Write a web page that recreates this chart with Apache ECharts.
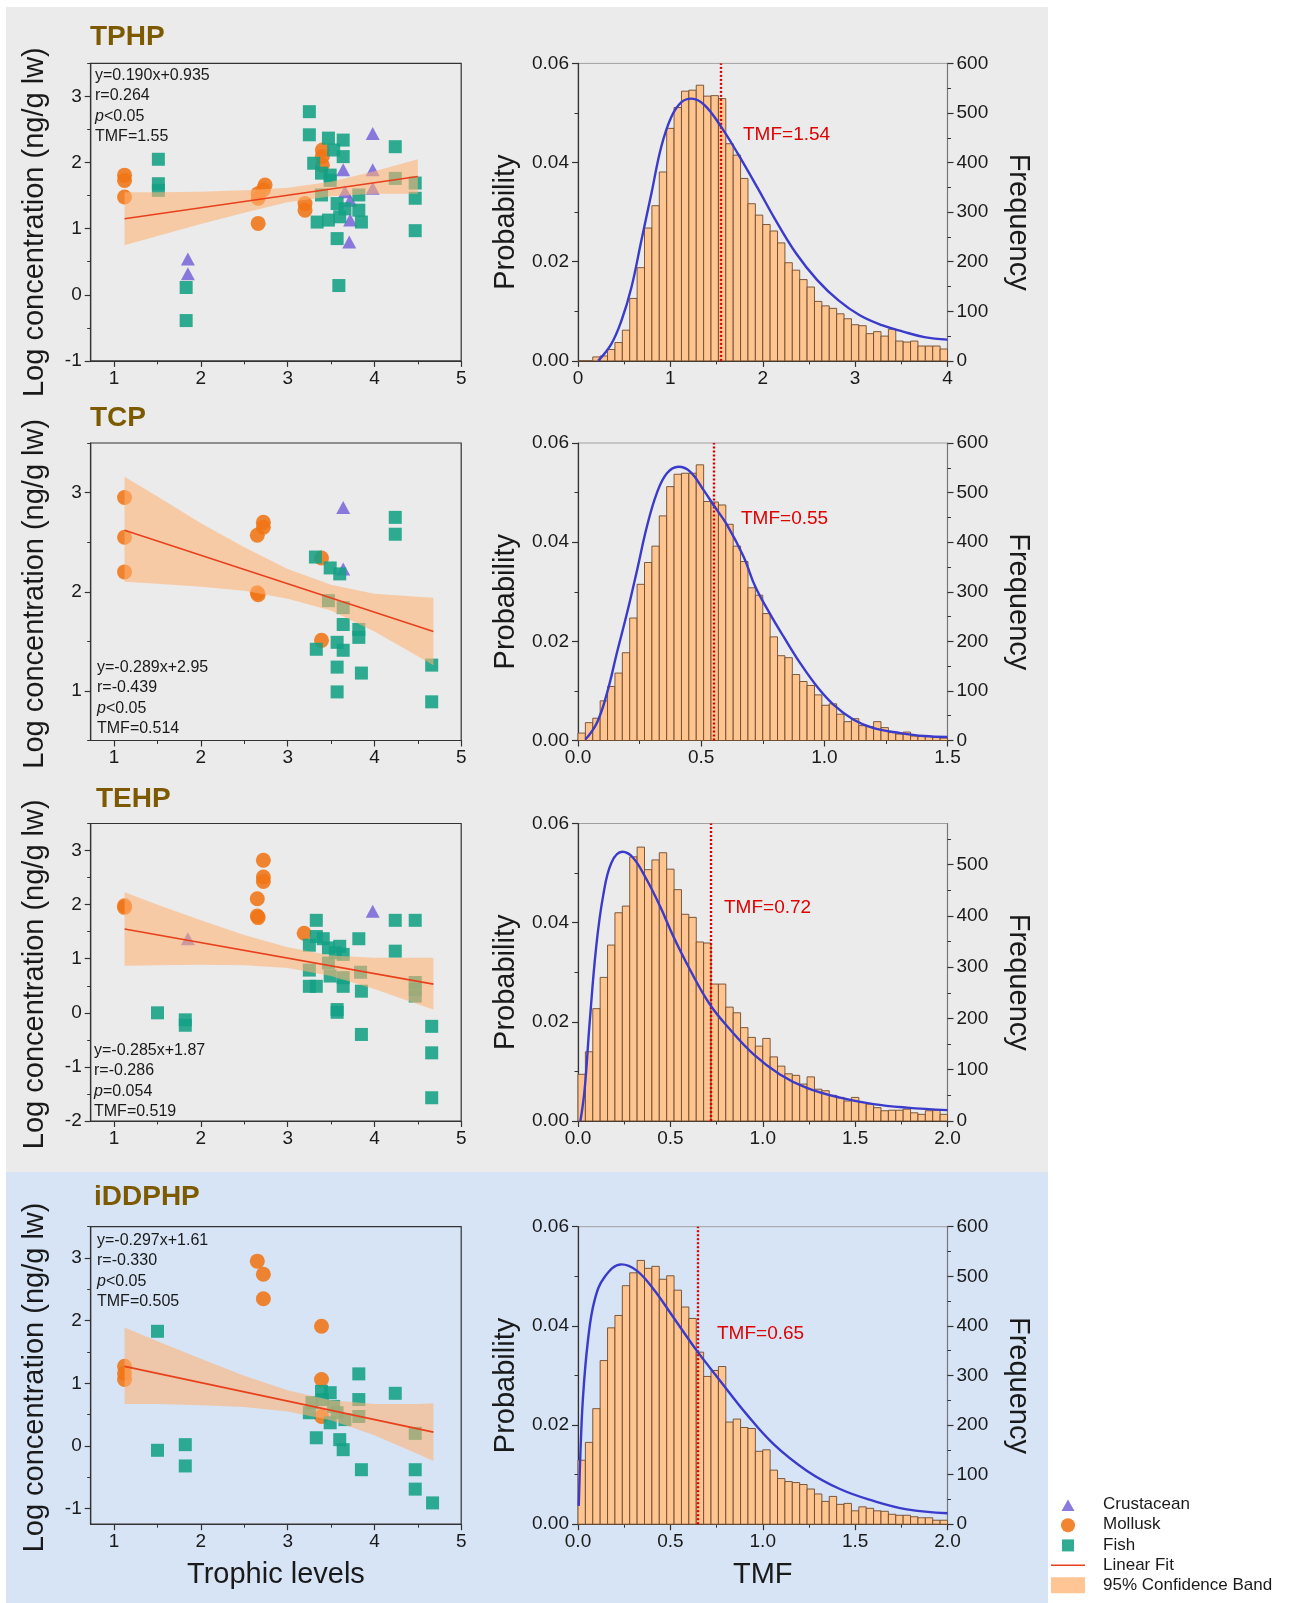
<!DOCTYPE html>
<html>
<head>
<meta charset="utf-8">
<script src="https://cdn.jsdelivr.net/npm/echarts@6/dist/echarts.min.js"></script>
<style>
  html, body { margin: 0; padding: 0; background: #fff; }
  #main { width: 1292px; height: 1603px; }
</style>
</head>
<body>
<div id="main"></div>
<script>
const FONT = '"Liberation Sans", Arial, sans-serif';
const INK = '#1a1a1a';

// ---------- left column: log concentration vs trophic level ----------
const tphpCrustacean = [[1.85,0.54],[1.85,0.32],[3.64,1.89],[3.66,1.56],[3.72,1.43],[3.72,1.13],[3.71,0.80],[3.98,2.44],[3.98,1.89],[3.98,1.61]];
const tphpMollusk = [[1.12,1.81],[1.12,1.73],[1.12,1.48],[2.74,1.66],[2.72,1.59],[2.66,1.53],[2.66,1.46],[2.66,1.08],[3.2,1.38],[3.2,1.28],[3.4,2.19],[3.4,2.09],[3.4,1.96]];
const tphpFish = [[1.51,2.05],[1.51,1.68],[1.51,1.58],[1.83,0.11],[1.83,-0.39],[3.25,2.77],[3.25,2.42],[3.30,1.99],[3.34,1.10],[3.39,1.84],[3.39,1.51],[3.47,2.37],[3.49,1.81],[3.49,1.73],[3.47,1.13],[3.53,2.19],[3.57,1.38],[3.57,0.85],[3.59,0.14],[3.60,1.18],[3.64,2.34],[3.64,2.09],[3.66,1.30],[3.82,1.51],[3.82,1.28],[3.85,1.10],[4.24,2.24],[4.24,1.76],[4.47,1.69],[4.47,1.46],[4.47,0.97]];
const tphpFit = [[1.12,1.15],[4.5,1.79]];
const tphpBandX = [1.12,1.5,2,2.5,3,3.5,4,4.5];
const tphpBandLow = [0.75,0.89,1.07,1.24,1.40,1.49,1.53,1.53];
const tphpBandHigh = [1.55,1.55,1.56,1.58,1.62,1.71,1.87,2.05];
const tphpStats = ['y=0.190x+0.935','r=0.264','p<0.05','TMF=1.55'];

const tcpCrustacean = [[3.64,2.85],[3.64,2.23]];
const tcpMollusk = [[1.12,2.95],[1.12,2.55],[1.12,2.20],[2.72,2.70],[2.72,2.65],[2.65,2.57],[2.65,1.99],[2.66,1.97],[3.39,2.34],[3.39,1.51]];
const tcpFish = [[3.32,2.35],[3.49,2.24],[3.60,2.18],[3.47,1.91],[3.64,1.84],[3.64,1.67],[3.82,1.62],[3.82,1.54],[3.33,1.42],[3.57,1.49],[3.64,1.41],[3.57,1.24],[3.57,0.99],[3.85,1.18],[4.24,2.75],[4.24,2.58],[4.66,1.26],[4.66,0.89]];
const tcpFit = [[1.12,2.62],[4.68,1.60]];
const tcpBandX = [1.12,1.5,2,2.5,3,3.5,4,4.5,4.68];
const tcpBandLow = [2.10,2.08,2.05,2.01,1.93,1.81,1.60,1.35,1.26];
const tcpBandHigh = [3.16,2.96,2.69,2.45,2.23,2.07,1.98,1.95,1.94];
const tcpStats = ['y=-0.289x+2.95','r=-0.439','p<0.05','TMF=0.514'];

const tehpCrustacean = [[1.85,1.37],[3.98,1.88]];
const tehpMollusk = [[1.12,1.95],[1.12,1.98],[2.72,2.82],[2.72,2.51],[2.72,2.43],[2.65,2.11],[2.65,1.79],[2.66,1.76],[3.19,1.47]];
const tehpFish = [[1.50,0.0],[1.82,-0.13],[1.82,-0.23],[3.25,1.25],[3.25,0.79],[3.25,0.49],[3.33,1.71],[3.33,1.41],[3.33,0.49],[3.41,1.37],[3.47,1.20],[3.47,0.92],[3.49,0.68],[3.55,1.11],[3.57,0.06],[3.57,0.01],[3.60,1.23],[3.64,1.08],[3.64,0.65],[3.64,0.49],[3.82,1.37],[3.84,0.75],[3.85,0.40],[3.85,-0.40],[4.24,1.71],[4.24,1.14],[4.47,1.71],[4.47,0.56],[4.47,0.43],[4.47,0.31],[4.66,-0.25],[4.66,-0.74],[4.66,-1.57]];
const tehpFit = [[1.12,1.55],[4.68,0.53]];
const tehpBandX = [1.12,1.5,2,2.5,3,3.5,4,4.5,4.68];
const tehpBandLow = [0.87,0.88,0.89,0.88,0.83,0.68,0.44,0.16,0.06];
const tehpBandHigh = [2.23,2.00,1.71,1.44,1.21,1.06,1.02,1.02,1.02];
const tehpStats = ['y=-0.285x+1.87','r=-0.286','p=0.054','TMF=0.519'];

const iddphpCrustacean = [];
const iddphpMollusk = [[1.12,1.27],[1.12,1.16],[1.12,1.06],[2.65,2.95],[2.72,2.74],[2.72,2.35],[3.39,1.91],[3.39,1.06],[3.39,0.47]];
const iddphpFish = [[1.50,1.83],[1.50,-0.07],[1.82,0.02],[1.82,-0.32],[3.25,0.53],[3.28,0.69],[3.33,0.13],[3.39,0.87],[3.40,0.74],[3.49,0.85],[3.49,0.37],[3.53,0.63],[3.57,0.53],[3.60,0.10],[3.64,-0.06],[3.66,0.42],[3.82,1.15],[3.82,0.74],[3.82,0.47],[3.85,-0.38],[4.24,0.84],[4.47,0.20],[4.47,-0.38],[4.47,-0.69],[4.67,-0.91]];
const iddphpFit = [[1.12,1.27],[4.68,0.22]];
const iddphpBandX = [1.12,1.5,2,2.5,3,3.5,4,4.5,4.68];
const iddphpBandLow = [0.67,0.67,0.65,0.62,0.55,0.41,0.17,-0.13,-0.24];
const iddphpBandHigh = [1.89,1.67,1.39,1.12,0.89,0.73,0.67,0.67,0.68];
const iddphpStats = ['y=-0.297x+1.61','r=-0.330','p<0.05','TMF=0.505'];

const trophicTicks = [1,2,3,4,5];
const trophicMinor = [1.5,2.5,3.5,4.5];
const concTicks = [[-1,0,1,2,3],[1,2,3],[-2,-1,0,1,2,3],[-1,0,1,2,3]];
const concMinor = [[-0.5,0.5,1.5,2.5,3.5],[0.5,1.5,2.5,3.5],[-1.5,-0.5,0.5,1.5,2.5,3.5],[-0.5,0.5,1.5,2.5,3.5]];
const concMin = [-1, 0.5, -2, -1.25];

// ---------- right column: TMF distributions ----------
const tphpFreq = [0,0,8,10,23,37,62,126,188,268,313,381,469,511,544,546,556,534,535,529,438,415,368,317,294,275,262,238,198,183,164,149,120,111,106,95,85,73,71,55,59,50,64,40,38,40,30,30,30,24];
const tphpBinWidth = 0.08;
const tphpCurve = [[0.217,0],[0.36,0.0034],[0.47,0.0081],[0.578,0.0148],[0.686,0.0243],[0.794,0.0337],[0.9,0.0431],[1.01,0.0492],[1.12,0.0522],[1.23,0.0529],[1.37,0.0516],[1.55,0.0472],[1.73,0.0418],[1.95,0.0347],[2.12,0.029],[2.36,0.0217],[2.59,0.0163],[2.82,0.0122],[3.05,0.0092],[3.29,0.0072],[3.52,0.0059],[3.75,0.0048],[4.0,0.0043]];
const tphpTmf = 1.54;

const tcpFreq = [15,36,45,80,109,136,177,247,315,359,392,453,512,537,539,539,556,482,481,475,436,392,361,308,293,256,209,171,167,133,119,111,92,71,74,53,38,44,30,28,38,26,16,13,17,9,8,8,7,5];
const tcpBinWidth = 0.03;
const tcpCurve = [[0.03,0.0002],[0.077,0.0036],[0.118,0.0096],[0.158,0.0177],[0.199,0.0257],[0.24,0.0344],[0.28,0.0432],[0.32,0.0499],[0.361,0.0539],[0.408,0.0552],[0.456,0.0542],[0.51,0.0505],[0.55,0.0475],[0.605,0.0435],[0.672,0.0371],[0.72,0.031],[0.78,0.0255],[0.834,0.021],[0.902,0.0156],[0.97,0.0109],[1.038,0.0072],[1.119,0.0042],[1.2,0.0025],[1.309,0.0015],[1.404,0.0009],[1.5,0.0007]];
const tcpTmf = 0.55;

const tehpFreq = [91,135,219,280,343,406,419,515,534,490,509,523,491,451,403,397,349,347,267,267,222,211,182,163,146,161,125,107,92,89,72,86,62,59,50,46,39,46,36,33,26,20,21,21,23,16,13,20,21,13];
const tehpBinWidth = 0.04;
const tehpCurve = [[0.013,0],[0.036,0.0064],[0.063,0.0198],[0.099,0.0353],[0.136,0.0454],[0.181,0.0521],[0.24,0.0543],[0.298,0.0531],[0.37,0.0488],[0.443,0.0434],[0.515,0.0373],[0.605,0.0306],[0.714,0.0235],[0.822,0.0185],[0.949,0.0135],[1.093,0.0094],[1.238,0.0067],[1.418,0.0047],[1.599,0.0034],[1.78,0.0027],[2.0,0.0022]];
const tehpTmf = 0.72;

const iddphpFreq = [129,165,233,330,396,421,481,507,532,516,520,494,501,472,438,415,347,298,310,318,206,212,195,193,147,150,109,92,86,84,80,71,61,46,56,40,42,27,35,32,27,26,20,18,18,15,13,13,8,8];
const iddphpBinWidth = 0.04;
const iddphpCurve = [[0.004,0.0037],[0.013,0.0142],[0.027,0.0256],[0.054,0.0371],[0.09,0.0452],[0.145,0.0499],[0.235,0.0524],[0.316,0.0512],[0.407,0.0475],[0.515,0.0418],[0.641,0.0351],[0.768,0.029],[0.912,0.0222],[1.057,0.0162],[1.238,0.0108],[1.418,0.0071],[1.599,0.0047],[1.78,0.003],[2.0,0.0022]];
const iddphpTmf = 0.65;

const tmfMax = [4, 1.5, 2, 2];
const tmfTicks = [[0,1,2,3,4],[0,0.5,1,1.5],[0,0.5,1,1.5,2],[0,0.5,1,1.5,2]];
const tmfMinor = [[0.5,1.5,2.5,3.5],[0.25,0.75,1.25],[0.25,0.75,1.25,1.75],[0.25,0.75,1.25,1.75]];
const probTicks = [0,0.02,0.04,0.06];
const probMinor = [0.01,0.03,0.05];
const freqMax = [600, 600, 580, 600];
const freqTicks = [[0,100,200,300,400,500,600],[0,100,200,300,400,500,600],[0,100,200,300,400,500],[0,100,200,300,400,500,600]];
const freqMinor = [[50,150,250,350,450,550],[50,150,250,350,450,550],[50,150,250,350,450,550],[50,150,250,350,450,550]];

const panels = [
  {name:'TPHP', crustacean:tphpCrustacean, mollusk:tphpMollusk, fish:tphpFish, fit:tphpFit, bandX:tphpBandX, bandLow:tphpBandLow, bandHigh:tphpBandHigh, stats:tphpStats, freq:tphpFreq, binWidth:tphpBinWidth, curve:tphpCurve, tmf:tphpTmf},
  {name:'TCP', crustacean:tcpCrustacean, mollusk:tcpMollusk, fish:tcpFish, fit:tcpFit, bandX:tcpBandX, bandLow:tcpBandLow, bandHigh:tcpBandHigh, stats:tcpStats, freq:tcpFreq, binWidth:tcpBinWidth, curve:tcpCurve, tmf:tcpTmf},
  {name:'TEHP', crustacean:tehpCrustacean, mollusk:tehpMollusk, fish:tehpFish, fit:tehpFit, bandX:tehpBandX, bandLow:tehpBandLow, bandHigh:tehpBandHigh, stats:tehpStats, freq:tehpFreq, binWidth:tehpBinWidth, curve:tehpCurve, tmf:tehpTmf},
  {name:'iDDPHP', crustacean:iddphpCrustacean, mollusk:iddphpMollusk, fish:iddphpFish, fit:iddphpFit, bandX:iddphpBandX, bandLow:iddphpBandLow, bandHigh:iddphpBandHigh, stats:iddphpStats, freq:iddphpFreq, binWidth:iddphpBinWidth, curve:iddphpCurve, tmf:iddphpTmf}
];

// layout (pixels)
const rowTop = [63.4, 443, 823.5, 1226.7];
const rowHeight = 297.5;
const titlePos = [[90, 37], [90, 418], [96, 799], [94, 1197]];
const statsPos = [[95, 65], [97, 657], [94, 1040], [97, 1230]];
const tmfLabelPos = [[743, 135], [741, 519], [724, 908], [717, 1334]];

const BAND = 'rgba(255,178,115,0.58)';

const option = {
  animation: false,
  backgroundColor: '#ffffff',
  textStyle: { fontFamily: FONT },
  grid: [], xAxis: [], yAxis: [], series: [],
  graphic: [
    { type: 'rect', z: -10, silent: true, shape: { x: 6, y: 7, width: 1042, height: 1165 }, style: { fill: '#ebebeb' } },
    { type: 'rect', z: -10, silent: true, shape: { x: 6, y: 1172, width: 1042, height: 431 }, style: { fill: '#d6e4f6' } }
  ],
  legend: {
    orient: 'vertical', left: 1033, top: 1491,
    itemWidth: 60, itemHeight: 16, itemGap: 3.2,
    itemStyle: { borderWidth: 0 },
    textStyle: { fontSize: 17, color: INK, fontFamily: FONT },
    data: [
      { name: 'Crustacean', icon: 'path://M0,0M60,16M23.5,14.5L30,3L36.5,14.5Z' },
      { name: 'Mollusk', icon: 'path://M0,0M60,16M23,8.5A7,7 0 1,0 37,8.5A7,7 0 1,0 23,8.5Z' },
      { name: 'Fish', icon: 'path://M0,0M60,16M24,2.5H36V14.5H24Z' },
      { name: 'Linear Fit', icon: 'path://M0,0M60,16M13,7.5H47V9H13Z' },
      { name: '95% Confidence Band', icon: 'path://M0,0M60,16M13,0H47V16H13Z' }
    ]
  }
};

function addAxis(list, cfg, major, minor, fmt, labelOpts, lineColor) {
  const lc = lineColor || '#333';
  list.push(Object.assign({
    type: 'value',
    splitLine: { show: false },
    axisLine: { show: true, onZero: false, lineStyle: { color: lc, width: 1.2 } },
    axisTick: { show: true, inside: false, customValues: major, length: 6, lineStyle: { color: '#333', width: 1.2 } },
    axisLabel: Object.assign({ show: true, customValues: major, formatter: fmt, color: INK, fontSize: 19, fontFamily: FONT }, labelOpts || {})
  }, cfg));
  const idx = list.length - 1;
  if (minor && minor.length) {
    list.push({
      type: 'value', gridIndex: cfg.gridIndex, position: cfg.position, min: cfg.min, max: cfg.max,
      splitLine: { show: false },
      axisLine: { show: false, onZero: false },
      axisLabel: { show: false },
      axisTick: { show: true, inside: false, customValues: minor, length: 3.5, lineStyle: { color: '#333', width: 1 } }
    });
  }
  return idx;
}

const nameStyle = { fontSize: 29, color: INK, fontFamily: FONT };

panels.forEach((p, r) => {
  const gL = option.grid.length;
  option.grid.push({ left: 90.7, top: rowTop[r], width: 370.5, height: rowHeight, show: true,
    borderColor: '#333', borderWidth: 1.2, backgroundColor: 'transparent', outerBoundsMode: 'none' });
  const gR = gL + 1;
  option.grid.push({ left: 578, top: rowTop[r], width: 369.5, height: rowHeight, show: true,
    borderColor: '#a0a0a0', borderWidth: 1, backgroundColor: 'transparent', outerBoundsMode: 'none' });

  // scatter axes
  const sx = addAxis(option.xAxis, {
    gridIndex: gL, position: 'bottom', min: 0.73, max: 5,
    name: r === 3 ? 'Trophic levels' : '', nameLocation: 'middle', nameGap: 36, nameTextStyle: nameStyle
  }, trophicTicks, trophicMinor, v => String(v), { margin: 8 });
  const sy = addAxis(option.yAxis, {
    gridIndex: gL, position: 'left', min: concMin[r], max: 3.5,
    name: 'Log concentration (ng/g lw)', nameLocation: 'middle', nameRotate: 90, nameGap: 41,
    nameTextStyle: Object.assign({ padding: [0, r === 0 ? 20 : 4, 0, 0] }, nameStyle)
  }, concTicks[r], concMinor[r], v => String(v), { margin: 9 });

  // histogram axes
  const hx = addAxis(option.xAxis, {
    gridIndex: gR, position: 'bottom', min: 0, max: tmfMax[r],
    name: r === 3 ? 'TMF' : '', nameLocation: 'middle', nameGap: 36, nameTextStyle: nameStyle
  }, tmfTicks[r], tmfMinor[r], v => (r === 0 ? String(v) : v.toFixed(1)), { margin: 8 });
  const hp = addAxis(option.yAxis, {
    gridIndex: gR, position: 'left', min: 0, max: 0.06,
    name: 'Probability', nameLocation: 'middle', nameRotate: 90, nameGap: 58,
    nameTextStyle: Object.assign({ padding: [0, 20, 0, 0] }, nameStyle)
  }, probTicks, probMinor, v => v.toFixed(2), { margin: 9 });
  const hf = addAxis(option.yAxis, {
    gridIndex: gR, position: 'right', min: 0, max: freqMax[r],
    name: 'Frequency', nameLocation: 'middle', nameRotate: -90, nameGap: 56,
    nameTextStyle: Object.assign({ padding: [0, 0, 0, 20] }, nameStyle)
  }, freqTicks[r], freqMinor[r], v => String(v), { margin: 9 }, '#777');

  // scatter points
  option.series.push(
    { type: 'scatter', name: 'Crustacean', xAxisIndex: sx, yAxisIndex: sy, data: p.crustacean,
      symbol: 'triangle', symbolSize: [14, 13], itemStyle: { color: '#7a68d8', opacity: 0.88 }, z: 2 },
    { type: 'scatter', name: 'Mollusk', xAxisIndex: sx, yAxisIndex: sy, data: p.mollusk,
      symbol: 'circle', symbolSize: 15, itemStyle: { color: '#f07414', opacity: 0.88 }, z: 2 },
    { type: 'scatter', name: 'Fish', xAxisIndex: sx, yAxisIndex: sy, data: p.fish,
      symbol: 'rect', symbolSize: 13, itemStyle: { color: '#13a084', opacity: 0.88 }, z: 2 },
    { type: 'custom', name: '95% Confidence Band', xAxisIndex: sx, yAxisIndex: sy, data: [[0, 0]],
      itemStyle: { color: '#ffc594' }, z: 3, silent: true,
      renderItem: (params, api) => {
        const hi = p.bandX.map((x, i) => api.coord([x, p.bandHigh[i]]));
        const lo = p.bandX.map((x, i) => api.coord([x, p.bandLow[i]])).reverse();
        return { type: 'polygon', shape: { points: hi.concat(lo) }, style: { fill: BAND } };
      } },
    { type: 'line', name: 'Linear Fit', xAxisIndex: sx, yAxisIndex: sy, data: p.fit,
      symbol: 'none', lineStyle: { color: '#e8401c', width: 1.6 }, itemStyle: { color: '#e8401c' }, z: 4 }
  );

  // histogram
  option.series.push(
    { type: 'custom', xAxisIndex: hx, yAxisIndex: hf, silent: true, z: 2,
      data: p.freq.map((c, i) => [i * p.binWidth, (i + 1) * p.binWidth, c]),
      renderItem: (params, api) => {
        const a = api.coord([api.value(0), api.value(2)]);
        const b = api.coord([api.value(1), 0]);
        return { type: 'rect', shape: { x: a[0], y: a[1], width: b[0] - a[0], height: b[1] - a[1] },
          style: { fill: '#ffc590', stroke: '#6e4a2c', lineWidth: 0.9 } };
      } },
    { type: 'line', xAxisIndex: hx, yAxisIndex: hp, data: p.curve, smooth: 0.4, symbol: 'none', z: 5,
      lineStyle: { color: '#3a3acb', width: 2.4 }, itemStyle: { color: '#3a3acb' },
      markLine: { silent: true, symbol: 'none', label: { show: false },
        lineStyle: { color: '#dd0000', width: 2.4, type: [2, 2] }, data: [{ xAxis: p.tmf }] } }
  );

  // texts
  option.graphic.push(
    { type: 'text', z: 10, x: titlePos[r][0], y: titlePos[r][1],
      style: { text: p.name, fill: '#7d5a00', font: 'bold 28px ' + FONT, textVerticalAlign: 'middle' } },
    { type: 'text', z: 10, x: statsPos[r][0], y: statsPos[r][1],
      style: { text: p.stats.map(s => s.charAt(0) === 'p' ? '{it|p}' + s.slice(1) : s).join('\n'),
        fill: INK, font: '16px ' + FONT, lineHeight: 20.5, textVerticalAlign: 'top',
        rich: { it: { fontStyle: 'italic', fontSize: 16, fontFamily: FONT, fill: INK, lineHeight: 20.5 } } } },
    { type: 'text', z: 10, x: tmfLabelPos[r][0], y: tmfLabelPos[r][1],
      style: { text: 'TMF=' + p.tmf.toFixed(2), fill: '#e00000', font: '19px ' + FONT, textVerticalAlign: 'middle' } }
  );
});

const chart = echarts.init(document.getElementById('main'), null, { renderer: 'canvas' });
chart.setOption(option);
</script>
</body>
</html>
